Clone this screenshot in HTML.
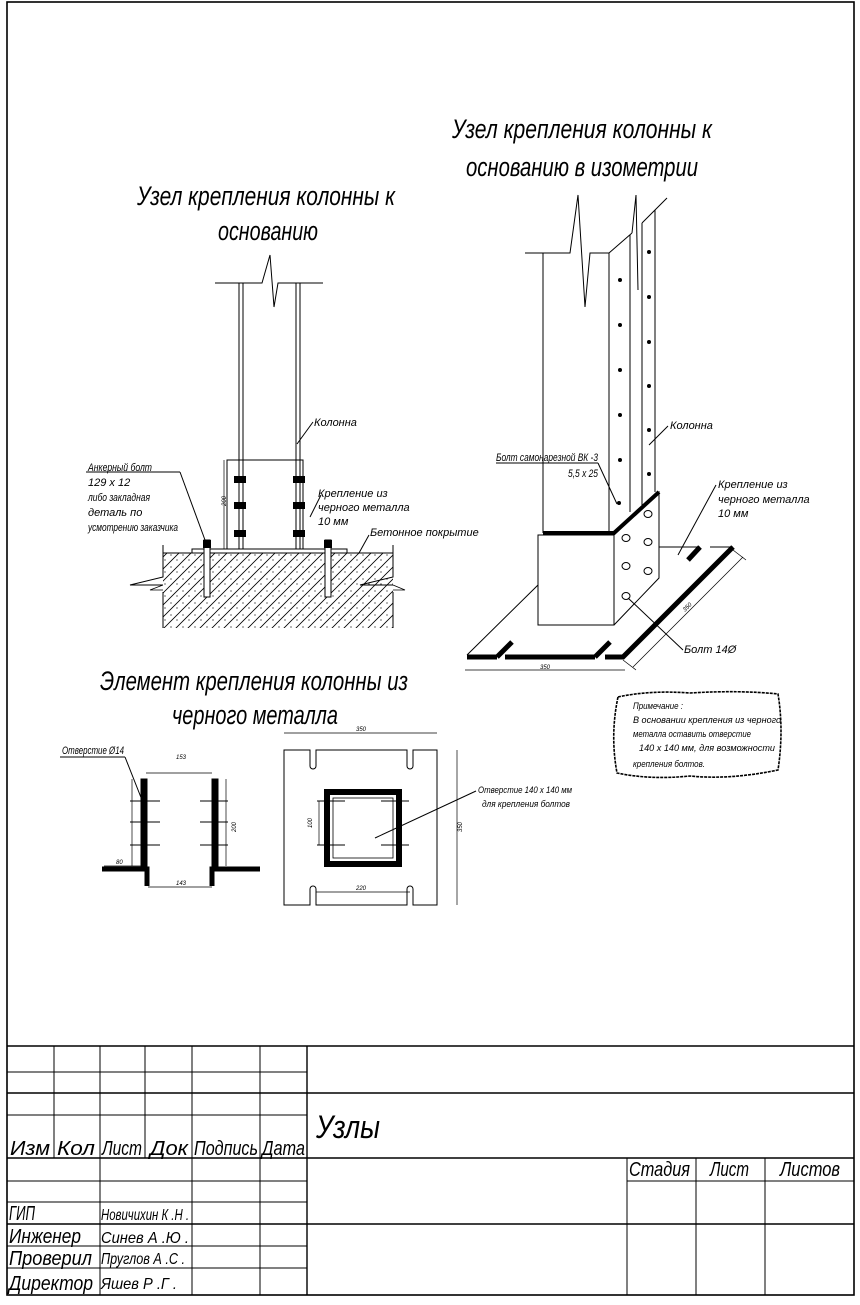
<!DOCTYPE html>
<html><head><meta charset="utf-8"><style>
html,body{margin:0;padding:0;background:#fff}
svg{display:block}
text{font-family:"Liberation Sans","DejaVu Sans",sans-serif;font-style:italic;fill:#000}
.t{font-size:27px}
.s{font-size:11px}
.d{font-size:6px}
</style></head><body>
<svg width="860" height="1305" viewBox="0 0 860 1305" xmlns="http://www.w3.org/2000/svg">
<defs>
<pattern id="h" width="12" height="12" patternUnits="userSpaceOnUse">
<path d="M0 12 L12 0 M-2 2 L2 -2 M10 14 L14 10" stroke="#000" stroke-width="0.8"/>
<circle cx="3" cy="3" r="0.6"/><circle cx="9" cy="8" r="0.6"/>
</pattern>
</defs>
<g fill="none" stroke="#000" stroke-width="1">
<rect x="7" y="2" width="847" height="1293" stroke-width="1.6"/>
<line x1="7" y1="1046" x2="854" y2="1046" stroke-width="1.6"/>
<line x1="7" y1="1072" x2="307" y2="1072"/>
<line x1="7" y1="1093" x2="854" y2="1093" stroke-width="1.4"/>
<line x1="7" y1="1115" x2="307" y2="1115"/>
<line x1="7" y1="1158" x2="854" y2="1158" stroke-width="1.6"/>
<line x1="7" y1="1181" x2="307" y2="1181"/>
<line x1="627" y1="1181" x2="854" y2="1181"/>
<line x1="7" y1="1202" x2="307" y2="1202"/>
<line x1="7" y1="1224" x2="854" y2="1224" stroke-width="1.4"/>
<line x1="7" y1="1246" x2="307" y2="1246"/>
<line x1="7" y1="1268" x2="307" y2="1268"/>
<line x1="54" y1="1046" x2="54" y2="1158"/>
<line x1="100" y1="1046" x2="100" y2="1295"/>
<line x1="145" y1="1046" x2="145" y2="1158"/>
<line x1="192" y1="1046" x2="192" y2="1295"/>
<line x1="260" y1="1046" x2="260" y2="1295"/>
<line x1="307" y1="1046" x2="307" y2="1295" stroke-width="1.4"/>
<line x1="627" y1="1158" x2="627" y2="1295"/>
<line x1="696" y1="1158" x2="696" y2="1295"/>
<line x1="765" y1="1158" x2="765" y2="1295"/>

<!-- LEFT DRAWING -->
<path d="M215 283 H262 L270 255 L274 307 L278 283 H323"/>
<line x1="239" y1="283" x2="239" y2="549"/>
<line x1="300" y1="283" x2="300" y2="549"/>
<line x1="243" y1="283" x2="243" y2="549"/>
<line x1="296" y1="283" x2="296" y2="549"/>
<rect x="227" y="460" width="76" height="89"/>
<line x1="224" y1="460" x2="224" y2="549" stroke-width="0.7"/>
<rect x="192" y="549" width="155" height="4"/>
<line x1="163" y1="553" x2="393" y2="553"/>
<rect x="163" y="553" width="230" height="75" fill="url(#h)" stroke="none"/>
<path d="M163 545 V577 L130 585 H163 M163 592 V628"/>
<path d="M393 545 V577 L360 585 H393 M393 592 V628"/>
<path d="M163 585 L150 590 H163 M393 585 L405 590 H393" stroke-width="0.8"/>
<rect x="204" y="540" width="6" height="57" fill="#fff"/>
<rect x="325" y="540" width="6" height="57" fill="#fff"/>
<line x1="297" y1="444" x2="313" y2="422"/>
<line x1="310" y1="517" x2="321" y2="495"/>
<line x1="180" y1="472" x2="205" y2="540"/>
<line x1="86" y1="472" x2="180" y2="472"/>
<line x1="359" y1="553" x2="369" y2="535"/>

<!-- ISO DRAWING -->
<path d="M525 253 H570 L578 195 L585 307 L590 253 H609"/>
<line x1="543" y1="253" x2="543" y2="533"/>
<line x1="609" y1="253" x2="609" y2="533"/>
<path d="M609 253 L632 233"/>
<line x1="630" y1="235" x2="630" y2="512"/>
<path d="M632 233 L636 195 L638 290"/>
<line x1="642" y1="223" x2="642" y2="505"/>
<line x1="655" y1="210" x2="655" y2="492"/>
<path d="M642 223 L667 198"/>
<rect x="538" y="535" width="76" height="90"/>
<path d="M614 535 L659 492 V578 L614 625"/>
<path d="M543 533 H614 L659 492" stroke-width="4"/>
<path d="M538 585 L467 655 M659 547 H700 M710 547 H733"/>
<path d="M467 657 H497 M505 657 H595 M605 657 H623 L733 547" stroke-width="5"/>
<path d="M497 657 L512 642 M595 657 L610 642 M700 547 L688 560" stroke-width="5"/>
<line x1="465" y1="670" x2="625" y2="670" stroke-width="0.7"/>
<line x1="633" y1="667" x2="743" y2="557" stroke-width="0.7"/>
<line x1="623" y1="660" x2="636" y2="670" stroke-width="0.7"/>
<line x1="733" y1="550" x2="746" y2="560" stroke-width="0.7"/>
<line x1="496" y1="463" x2="598" y2="463"/>
<line x1="598" y1="463" x2="617" y2="504"/>
<line x1="649" y1="445" x2="668" y2="426"/>
<line x1="678" y1="555" x2="716" y2="485"/>
<line x1="628" y1="598" x2="683" y2="650"/>
<path d="M618 697 Q650 690 690 693 Q740 690 778 694 Q784 730 778 770 Q730 780 690 776 Q650 780 617 773 Q610 735 618 697 Z" stroke-width="1.6" stroke-dasharray="3 1"/>

<!-- BOTTOM LEFT DETAIL -->
<rect x="141" y="779" width="6" height="90" fill="#000"/>
<rect x="212" y="779" width="6" height="90" fill="#000"/>
<path d="M102 869 H147 V886 M212 886 V869 H260" stroke-width="5"/>
<path d="M130 801 H160 M130 822 H160 M130 845 H160 M200 801 H228 M200 822 H228 M200 845 H228" stroke-width="1.1"/>
<line x1="146" y1="773" x2="212" y2="773" stroke-width="0.7"/>
<line x1="148" y1="887" x2="212" y2="887" stroke-width="0.7"/>
<line x1="226" y1="779" x2="226" y2="866" stroke-width="0.7"/>
<line x1="132" y1="779" x2="132" y2="866" stroke-width="0.7"/>
<line x1="104" y1="866" x2="141" y2="866" stroke-width="0.7"/>
<line x1="60" y1="757" x2="125" y2="757"/>
<line x1="125" y1="757" x2="142" y2="800"/>
<path d="M284 750 H310 V766 A3 3 0 0 0 316 766 V750 H407 V766 A3 3 0 0 0 413 766 V750 H437 V905 H413 V889 A3 3 0 0 0 407 889 V905 H316 V889 A3 3 0 0 0 310 889 V905 H284 Z"/>
<rect x="327" y="792" width="72" height="72" stroke-width="6"/>
<rect x="333" y="798" width="60" height="60" stroke-width="0.8"/>
<path d="M317 801 H345 M317 845 H345 M381 801 H409 M381 845 H409"/>
<line x1="319" y1="801" x2="319" y2="845" stroke-width="0.7"/>
<line x1="284" y1="733" x2="437" y2="733" stroke-width="0.7"/>
<line x1="457" y1="750" x2="457" y2="905" stroke-width="0.7"/>
<line x1="316" y1="892" x2="410" y2="892" stroke-width="0.7"/>
<line x1="476" y1="791" x2="375" y2="838"/>
</g>
<g fill="#000">
<circle cx="620" cy="280" r="2"/><circle cx="620" cy="325" r="2"/><circle cx="620" cy="370" r="2"/><circle cx="620" cy="415" r="2"/><circle cx="620" cy="460" r="2"/><circle cx="619" cy="503" r="2"/>
<circle cx="649" cy="252" r="2"/><circle cx="649" cy="297" r="2"/><circle cx="649" cy="342" r="2"/><circle cx="649" cy="386" r="2"/><circle cx="649" cy="430" r="2"/><circle cx="649" cy="474" r="2"/>
<rect x="234" y="476" width="12" height="7"/><rect x="234" y="502" width="12" height="7"/><rect x="234" y="530" width="12" height="7"/>
<rect x="293" y="476" width="12" height="7"/><rect x="293" y="502" width="12" height="7"/><rect x="293" y="530" width="12" height="7"/>
<rect x="203" y="540" width="8" height="8"/><rect x="324" y="540" width="8" height="8"/>
</g>
<g fill="none" stroke="#000" stroke-width="1">
<ellipse cx="626" cy="538" rx="4" ry="3.5"/><ellipse cx="626" cy="566" rx="4" ry="3.5"/><ellipse cx="626" cy="596" rx="4" ry="3.5"/>
<ellipse cx="648" cy="514" rx="4" ry="3.5"/><ellipse cx="648" cy="542" rx="4" ry="3.5"/><ellipse cx="648" cy="571" rx="4" ry="3.5"/>
</g>

<text class="t" x="137" y="205" textLength="258" lengthAdjust="spacingAndGlyphs">Узел крепления колонны к</text>
<text class="t" x="218" y="240" textLength="100" lengthAdjust="spacingAndGlyphs">основанию</text>
<text class="t" x="452" y="138" textLength="260" lengthAdjust="spacingAndGlyphs">Узел крепления колонны к</text>
<text class="t" x="466" y="176" textLength="232" lengthAdjust="spacingAndGlyphs">основанию в изометрии</text>
<text class="t" x="100" y="690" textLength="308" lengthAdjust="spacingAndGlyphs">Элемент крепления колонны из</text>
<text class="t" x="172" y="724" textLength="166" lengthAdjust="spacingAndGlyphs">черного металла</text>

<text class="s" x="314" y="426">Колонна</text>
<text class="s" x="318" y="497">Крепление из</text>
<text class="s" x="318" y="511">черного металла</text>
<text class="s" x="318" y="525">10 мм</text>
<text class="s" x="370" y="536">Бетонное покрытие</text>
<text class="s" font-size="9" x="88" y="471" textLength="64" lengthAdjust="spacingAndGlyphs">Анкерный болт</text>
<text class="s" font-size="9" x="88" y="486">129 x 12</text>
<text class="s" font-size="9" x="88" y="501" textLength="62" lengthAdjust="spacingAndGlyphs">либо закладная</text>
<text class="s" font-size="9" x="88" y="516">деталь по</text>
<text class="s" font-size="9" x="88" y="531" textLength="90" lengthAdjust="spacingAndGlyphs">усмотрению заказчика</text>
<text class="s" font-size="9" x="496" y="461" textLength="102" lengthAdjust="spacingAndGlyphs">Болт самонарезной ВК -3</text>
<text class="s" font-size="9" x="568" y="477" textLength="30" lengthAdjust="spacingAndGlyphs">5,5 x 25</text>
<text class="s" x="670" y="429">Колонна</text>
<text class="s" x="718" y="488">Крепление из</text>
<text class="s" x="718" y="503">черного металла</text>
<text class="s" x="718" y="517">10 мм</text>
<text class="s" x="684" y="653">Болт  14Ø</text>
<text class="d" x="540" y="669">350</text>
<text class="d" x="685" y="612" transform="rotate(-45 685 612)">350</text>

<g font-size="9">
<text x="633" y="709" textLength="50" lengthAdjust="spacingAndGlyphs">Примечание :</text>
<text x="633" y="723" textLength="148" lengthAdjust="spacingAndGlyphs">В основании крепления из черного</text>
<text x="633" y="737" textLength="118" lengthAdjust="spacingAndGlyphs">металла оставить отверстие</text>
<text x="639" y="751" textLength="136" lengthAdjust="spacingAndGlyphs">140 x 140 мм, для возможности</text>
<text x="633" y="767" textLength="72" lengthAdjust="spacingAndGlyphs">крепления болтов.</text>
</g>

<text class="s" font-size="9" x="62" y="754" textLength="62" lengthAdjust="spacingAndGlyphs">Отверстие  Ø14</text>
<text class="d" x="176" y="759">153</text>
<text class="d" x="176" y="885">143</text>
<text class="d" x="116" y="864">80</text>
<text class="d" x="356" y="731">350</text>
<text class="d" x="356" y="890">220</text>
<text class="d" x="230" y="826" transform="rotate(-90 236 826)">200</text>
<text class="d" x="462" y="832" transform="rotate(-90 462 832)">350</text>
<text class="d" x="312" y="828" transform="rotate(-90 312 828)">100</text>
<text class="d" x="226" y="506" transform="rotate(-90 226 506)">200</text>
<text font-size="9" x="478" y="793" textLength="94" lengthAdjust="spacingAndGlyphs">Отверстие  140 x 140 мм</text>
<text font-size="9" x="482" y="807" textLength="88" lengthAdjust="spacingAndGlyphs">для крепления болтов</text>

<text font-size="32" x="316" y="1138" textLength="64" lengthAdjust="spacingAndGlyphs">Узлы</text>
<g font-size="20">
<text x="10" y="1155" textLength="40" lengthAdjust="spacingAndGlyphs">Изм</text>
<text x="57" y="1155" textLength="38" lengthAdjust="spacingAndGlyphs">Кол</text>
<text x="102" y="1155" textLength="40" lengthAdjust="spacingAndGlyphs">Лист</text>
<text x="150" y="1155" textLength="38" lengthAdjust="spacingAndGlyphs">Док</text>
<text x="194" y="1155" textLength="64" lengthAdjust="spacingAndGlyphs">Подпись</text>
<text x="262" y="1155" textLength="43" lengthAdjust="spacingAndGlyphs">Дата</text>
<text x="629" y="1176" textLength="61" lengthAdjust="spacingAndGlyphs">Стадия</text>
<text x="710" y="1176" textLength="39" lengthAdjust="spacingAndGlyphs">Лист</text>
<text x="780" y="1176" textLength="60" lengthAdjust="spacingAndGlyphs">Листов</text>
<text x="9" y="1220" textLength="26" lengthAdjust="spacingAndGlyphs">ГИП</text>
<text x="9" y="1243" textLength="72" lengthAdjust="spacingAndGlyphs">Инженер</text>
<text x="9" y="1265" textLength="83" lengthAdjust="spacingAndGlyphs">Проверил</text>
<text x="9" y="1290" textLength="84" lengthAdjust="spacingAndGlyphs">Директор</text>
</g>
<g font-size="16">
<text x="101" y="1220" textLength="88" lengthAdjust="spacingAndGlyphs">Новичихин К .Н .</text>
<text x="101" y="1243" textLength="88" lengthAdjust="spacingAndGlyphs">Синев А .Ю .</text>
<text x="101" y="1264" textLength="84" lengthAdjust="spacingAndGlyphs">Пруглов А .С .</text>
<text x="101" y="1289" textLength="76" lengthAdjust="spacingAndGlyphs">Яшев Р .Г .</text>
</g>
</svg>
</body></html>
